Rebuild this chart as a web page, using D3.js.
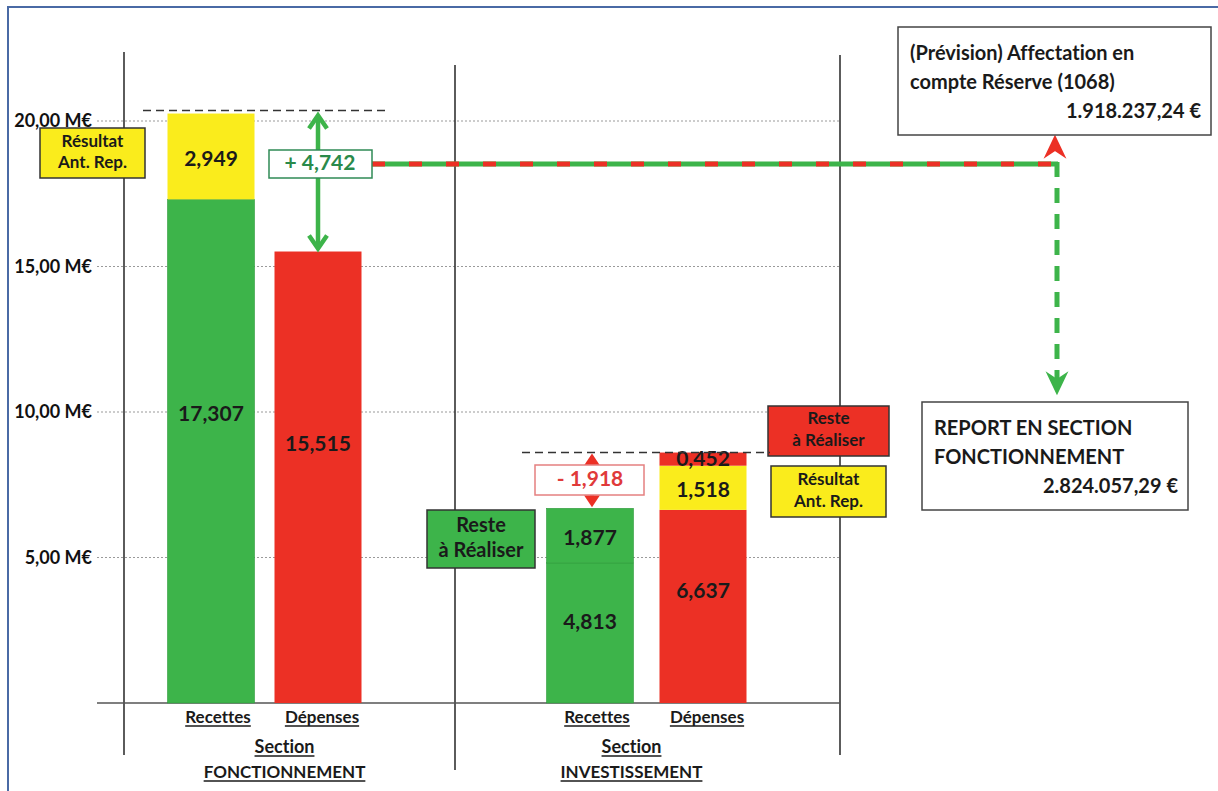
<!DOCTYPE html>
<html>
<head>
<meta charset="utf-8">
<script src="https://cdn.jsdelivr.net/npm/d3@7"></script>
<style>
body { margin: 0; background: #fff; }
text { font-family: Lato, "Open Sans", sans-serif; font-weight: 700; font-variant-ligatures: none; }
</style>
</head>
<body>
<div class="chart"></div>
<script>
const width = 1218;
const height = 791;

// bars: section, column, stacked segments (bottom to top), in M€
const barKeys = ['F-Recettes', 'F-Depenses', 'I-Recettes', 'I-Depenses'];
const barNames = ['Recettes', 'Dépenses', 'Recettes', 'Dépenses'];
const segValues = [
	[17.307, 2.949],
	[15.515],
	[4.813, 1.877],
	[6.637, 1.518, 0.452]
];
const segKinds = [
	['green', 'yellow'],
	['red'],
	['green', 'green'],
	['red', 'yellow', 'red']
];
const sectionNames = ['FONCTIONNEMENT', 'INVESTISSEMENT'];
const yTicks = [5, 10, 15, 20];
const soldeF = 4.742;
const soldeI = -1.918;
const affectation = '1.918.237,24 €';
const report = '2.824.057,29 €';

const colors = { green: '#3db44a', red: '#ec3025', yellow: '#faec1c' };
const fmt = v => d3.format('.3f')(v).replace('.', ',');

const svg = d3.select('.chart').append('svg')
	.attr('width', width)
	.attr('height', height);

// frame
svg.append('rect')
	.attr('x', 8).attr('y', 7)
	.attr('width', 1220).attr('height', 790)
	.attr('fill', 'none')
	.attr('stroke', '#4a6aa5')
	.attr('stroke-width', 2);

const y = d3.scaleLinear().domain([0, 20]).range([703, 121]);
const x = d3.scaleOrdinal().domain(barKeys).range([211, 318, 590, 703]);
const barW = 87;

// grid lines
svg.selectAll('.grid')
	.data(yTicks)
	.enter()
	.append('line')
	.attr('x1', 97).attr('x2', 840)
	.attr('y1', d => y(d)).attr('y2', d => y(d))
	.attr('stroke', '#9a9a9a')
	.attr('stroke-width', 1.2)
	.attr('stroke-dasharray', '2,2');

// y axis labels
const axis = d3.axisLeft(y)
	.tickValues(yTicks)
	.tickSize(0)
	.tickPadding(0)
	.tickFormat(d => d3.format('.2f')(d).replace('.', ',') + ' M€');
const ag = svg.append('g').attr('transform', 'translate(92,0)').call(axis);
ag.select('.domain').remove();
ag.selectAll('text')
	.style('font-size', '18px')
	.attr('fill', '#111')
	.style('font-family', 'Lato, sans-serif')
	.style('font-weight', 700);

// section separators
const seps = [[124, 52, 755], [455, 65, 770], [840, 55, 755]];
svg.selectAll('.sep')
	.data(seps)
	.enter()
	.append('line')
	.attr('x1', d => d[0]).attr('x2', d => d[0])
	.attr('y1', d => d[1]).attr('y2', d => d[2])
	.attr('stroke', '#333')
	.attr('stroke-width', 1.6);

// baseline
svg.append('line')
	.attr('x1', 97).attr('x2', 840)
	.attr('y1', y(0)).attr('y2', y(0))
	.attr('stroke', '#555')
	.attr('stroke-width', 1.5);

// stacked segments
const segs = [];
segValues.forEach((vals, i) => {
	let base = 0;
	vals.forEach((v, j) => {
		segs.push({ key: barKeys[i], y0: base, y1: base + v, v: v, kind: segKinds[i][j] });
		base += v;
	});
});

svg.selectAll('.seg')
	.data(segs)
	.enter()
	.append('rect')
	.attr('x', d => x(d.key) - barW / 2)
	.attr('width', barW)
	.attr('y', d => y(d.y1))
	.attr('height', d => y(d.y0) - y(d.y1))
	.attr('fill', d => colors[d.kind])
	.attr('stroke', d => d.kind === 'green' ? '#2f9a3c' : 'none')
	.attr('stroke-width', 0.6);

svg.selectAll('.segLabel')
	.data(segs)
	.enter()
	.append('text')
	.attr('x', d => x(d.key))
	.attr('y', d => {
		const top = y(d.y1), h = y(d.y0) - y(d.y1);
		if (d.v < 1) return top + 8;
		if (d.v > 3) return top + h * 0.43;
		return top + h / 2 + 4;
	})
	.attr('text-anchor', 'middle')
	.attr('dominant-baseline', 'middle')
	.attr('font-size', 21)
	.attr('fill', '#1a1a1a')
	.text(d => fmt(d.v));

// bottom labels
const und = (t, cx, cy, size) => {
	const tx = svg.append('text')
		.attr('x', cx).attr('y', cy)
		.attr('text-anchor', 'middle')
		.attr('font-size', size)
		.attr('fill', '#1a1a1a')
		.text(t);
	const bb = tx.node().getBBox();
	svg.append('line')
		.attr('x1', bb.x).attr('x2', bb.x + bb.width)
		.attr('y1', cy + 3).attr('y2', cy + 3)
		.attr('stroke', '#1a1a1a').attr('stroke-width', 1.3);
};
barKeys.forEach((k, i) => und(barNames[i], x(k) + (i % 2 ? 4 : 7), 723, 17));
const fMid = (x(barKeys[0]) + x(barKeys[1])) / 2 + 20;
const iMid = (x(barKeys[2]) + x(barKeys[3])) / 2 - 15;
und('Section', fMid, 753, 18);
und(sectionNames[0], fMid, 778, 17);
und('Section', iMid, 753, 18);
und(sectionNames[1], iMid, 778, 17);

// tag boxes
const tag = (x0, y0, w, h, fill, lines, gap) => {
	svg.append('rect')
		.attr('x', x0).attr('y', y0).attr('width', w).attr('height', h)
		.attr('fill', fill).attr('stroke', '#333').attr('stroke-width', 1.5);
	lines.forEach((l, i) => {
		svg.append('text')
			.attr('x', x0 + w / 2)
			.attr('y', y0 + h / 2 + (i - (lines.length - 1) / 2) * gap)
			.attr('text-anchor', 'middle')
			.attr('dominant-baseline', 'middle')
			.attr('font-size', l.size)
			.attr('fill', '#1a1a1a')
			.text(l.t);
	});
};
tag(40, 128, 105, 50, colors.yellow, [{ t: 'Résultat', size: 17 }, { t: 'Ant. Rep.', size: 17 }], 21);
tag(427, 510, 108, 58, colors.green, [{ t: 'Reste', size: 20 }, { t: 'à Réaliser', size: 20 }], 25);
tag(768, 406, 121, 50, colors.red, [{ t: 'Reste', size: 17 }, { t: 'à Réaliser', size: 17 }], 22);
tag(771, 466, 115, 51, colors.yellow, [{ t: 'Résultat', size: 17 }, { t: 'Ant. Rep.', size: 17 }], 22);

// dashed reference lines at tops
const fTop = d3.sum(segValues[0]);
const iTop = d3.sum(segValues[3]);
svg.append('line')
	.attr('x1', 143).attr('x2', 386)
	.attr('y1', y(fTop) - 3).attr('y2', y(fTop) - 3)
	.attr('stroke', '#333').attr('stroke-width', 1.6).attr('stroke-dasharray', '8,5');
svg.append('line')
	.attr('x1', 522).attr('x2', 770)
	.attr('y1', y(iTop)).attr('y2', y(iTop))
	.attr('stroke', '#333').attr('stroke-width', 1.6).attr('stroke-dasharray', '8,5');

// red/green dashed flow line
const flowY = 164;
svg.append('line')
	.attr('x1', 372).attr('x2', 1058)
	.attr('y1', flowY).attr('y2', flowY)
	.attr('stroke', colors.green).attr('stroke-width', 5);
svg.append('line')
	.attr('x1', 372).attr('x2', 1058)
	.attr('y1', flowY).attr('y2', flowY)
	.attr('stroke', colors.red).attr('stroke-width', 5).attr('stroke-dasharray', '13,24');
svg.append('line')
	.attr('x1', 1057).attr('x2', 1057)
	.attr('y1', flowY - 2).attr('y2', 388)
	.attr('stroke', colors.green).attr('stroke-width', 5).attr('stroke-dasharray', '15,11');
// red arrow up to the reserve box
svg.append('path')
	.attr('d', 'M1055,137 L1046,156 L1055,150 L1064,156 Z')
	.attr('fill', colors.red).attr('stroke', colors.red).attr('stroke-width', 2);
// green arrow down to the report box
svg.append('path')
	.attr('d', 'M1057,393 L1048,374 L1057,380 L1066,374 Z')
	.attr('fill', colors.green).attr('stroke', colors.green).attr('stroke-width', 2);

// green double arrow (Fonctionnement surplus)
const ax = 318;
const a1 = y(fTop) + 2, a2 = y(segValues[1][0]) - 3;
svg.append('line')
	.attr('x1', ax).attr('x2', ax).attr('y1', a1 + 2).attr('y2', a2 - 2)
	.attr('stroke', colors.green).attr('stroke-width', 4.5);
svg.append('path')
	.attr('d', `M${ax - 9},${a1 + 13} L${ax},${a1} L${ax + 9},${a1 + 13}`)
	.attr('fill', 'none').attr('stroke', colors.green).attr('stroke-width', 4.5);
svg.append('path')
	.attr('d', `M${ax - 9},${a2 - 13} L${ax},${a2} L${ax + 9},${a2 - 13}`)
	.attr('fill', 'none').attr('stroke', colors.green).attr('stroke-width', 4.5);
svg.append('rect')
	.attr('x', 269).attr('y', 150).attr('width', 103).attr('height', 28)
	.attr('fill', '#fff').attr('stroke', '#2f8a56').attr('stroke-width', 1.5);
svg.append('text')
	.attr('x', 320).attr('y', 165)
	.attr('text-anchor', 'middle').attr('dominant-baseline', 'middle')
	.attr('font-size', 21).attr('fill', '#2a8a4a')
	.text('+ ' + fmt(soldeF));

// red double arrow (Investissement deficit)
const rx = 592;
const r1 = y(iTop) + 1, r2 = y(d3.sum(segValues[2])) - 1;
svg.append('path')
	.attr('d', `M${rx},${r1} L${rx - 8},${r1 + 12} L${rx + 8},${r1 + 12} Z`)
	.attr('fill', colors.red);
svg.append('path')
	.attr('d', `M${rx},${r2} L${rx - 8},${r2 - 12} L${rx + 8},${r2 - 12} Z`)
	.attr('fill', colors.red);
svg.append('line')
	.attr('x1', rx).attr('x2', rx).attr('y1', r1 + 8).attr('y2', r2 - 8)
	.attr('stroke', colors.red).attr('stroke-width', 4);
svg.append('rect')
	.attr('x', 535).attr('y', 465).attr('width', 109).attr('height', 30)
	.attr('fill', '#fff').attr('stroke', '#e58080').attr('stroke-width', 1.5);
svg.append('text')
	.attr('x', 590).attr('y', 481)
	.attr('text-anchor', 'middle').attr('dominant-baseline', 'middle')
	.attr('font-size', 21).attr('fill', '#e03a3a')
	.text('- ' + fmt(-soldeI));

// info boxes
const info = (x0, y0, w, h, lines, value) => {
	svg.append('rect')
		.attr('x', x0).attr('y', y0).attr('width', w).attr('height', h)
		.attr('fill', '#fff').attr('stroke', '#444').attr('stroke-width', 1.5);
	lines.forEach((l, i) => {
		svg.append('text')
			.attr('x', x0 + 12).attr('y', y0 + 33 + i * 29)
			.attr('font-size', 20).attr('fill', '#1a1a1a')
			.text(l);
	});
	svg.append('text')
		.attr('x', x0 + w - 10).attr('y', y0 + 33 + lines.length * 29)
		.attr('text-anchor', 'end')
		.attr('font-size', 20).attr('fill', '#1a1a1a')
		.text(value);
};
info(898, 27, 313, 108, ['(Prévision) Affectation en', 'compte Réserve (1068)'], affectation);
info(922, 402, 266, 108, ['REPORT EN SECTION', 'FONCTIONNEMENT'], report);
</script>
</body>
</html>
